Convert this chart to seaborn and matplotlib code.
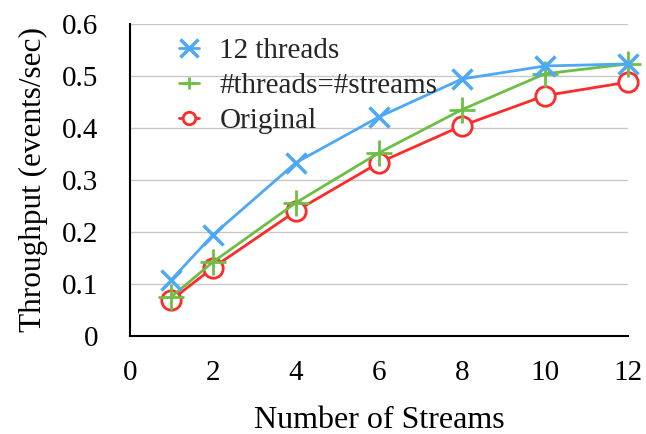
import matplotlib
matplotlib.use("Agg")
import matplotlib.pyplot as plt
from matplotlib.lines import Line2D
import seaborn as sns
import pandas as pd

streams = [1, 2, 4, 6, 8, 10, 12]
twelve_threads = [0.108, 0.194, 0.333, 0.421, 0.494, 0.519, 0.523]
threads_eq_streams = [0.075, 0.142, 0.256, 0.352, 0.435, 0.504, 0.523]
original = [0.069, 0.131, 0.240, 0.333, 0.404, 0.462, 0.488]

sns.set_theme(style="white")
plt.rcParams["font.family"] = ["Liberation Serif", "DejaVu Serif"]

fig = plt.figure(figsize=(6.46, 4.34), dpi=100)
ax = fig.add_axes([0.201, 0.226, 0.771, 0.719])

# (label, values, colour, marker, plot marker style, legend marker size)
series = [
    ("Original", original, "#FF2A2A", "o",
     dict(markerfacecolor="white", markersize=14, markeredgewidth=2), 9),
    ("#threads=#streams", threads_eq_streams, "#6DBE45", "+",
     dict(markersize=19, markeredgewidth=2), 9),
    ("12 threads", twelve_threads, "#4DA8F5", "x",
     dict(markersize=14, markeredgewidth=2.5), 13),
]

handles = {}
for name, vals, color, mk, kw, lsize in series:
    df = pd.DataFrame({"streams": streams, "tp": vals})
    sns.lineplot(data=df, x="streams", y="tp", ax=ax, color=color, marker=mk,
                 markeredgecolor=color, linewidth=2, clip_on=False, legend=False, **kw)
    hkw = dict(kw)
    hkw["markersize"] = lsize
    handles[name] = Line2D([], [], color=color, marker=mk, markeredgecolor=color,
                           linewidth=2, **hkw)

ax.set_xlim(0, 12)
ax.set_ylim(0, 0.6)
ax.set_xticks(range(0, 13, 2))
ax.set_yticks([0, 0.1, 0.2, 0.3, 0.4, 0.5, 0.6])
ax.set_yticklabels(["0", "0.1", "0.2", "0.3", "0.4", "0.5", "0.6"])
ax.yaxis.grid(True, color="#C8C8C8", linewidth=1)
ax.set_axisbelow(True)

for s in ["top", "right"]:
    ax.spines[s].set_visible(False)
for s in ["left", "bottom"]:
    ax.spines[s].set_color("black")
    ax.spines[s].set_linewidth(1.5)

ax.tick_params(axis="x", direction="in", length=5, width=1.5, colors="black", labelsize=21, pad=17)
ax.tick_params(axis="y", length=0, colors="black", labelsize=21, pad=23)
for lbl in ax.get_xticklabels() + ax.get_yticklabels():
    lbl.set_color("black")

ax.set_xlabel("Number of Streams", fontsize=23, color="black", labelpad=15)
ax.set_ylabel("Throughput (events/sec)", fontsize=22.5, color="black", labelpad=10)

order = ["12 threads", "#threads=#streams", "Original"]
ax.legend([handles[n] for n in order], order,
          loc="upper left", bbox_to_anchor=(0.045, 1.04), frameon=False,
          fontsize=21, handlelength=0.7, handletextpad=0.7, labelspacing=0.3)

fig.savefig("out.png", dpi=100)
